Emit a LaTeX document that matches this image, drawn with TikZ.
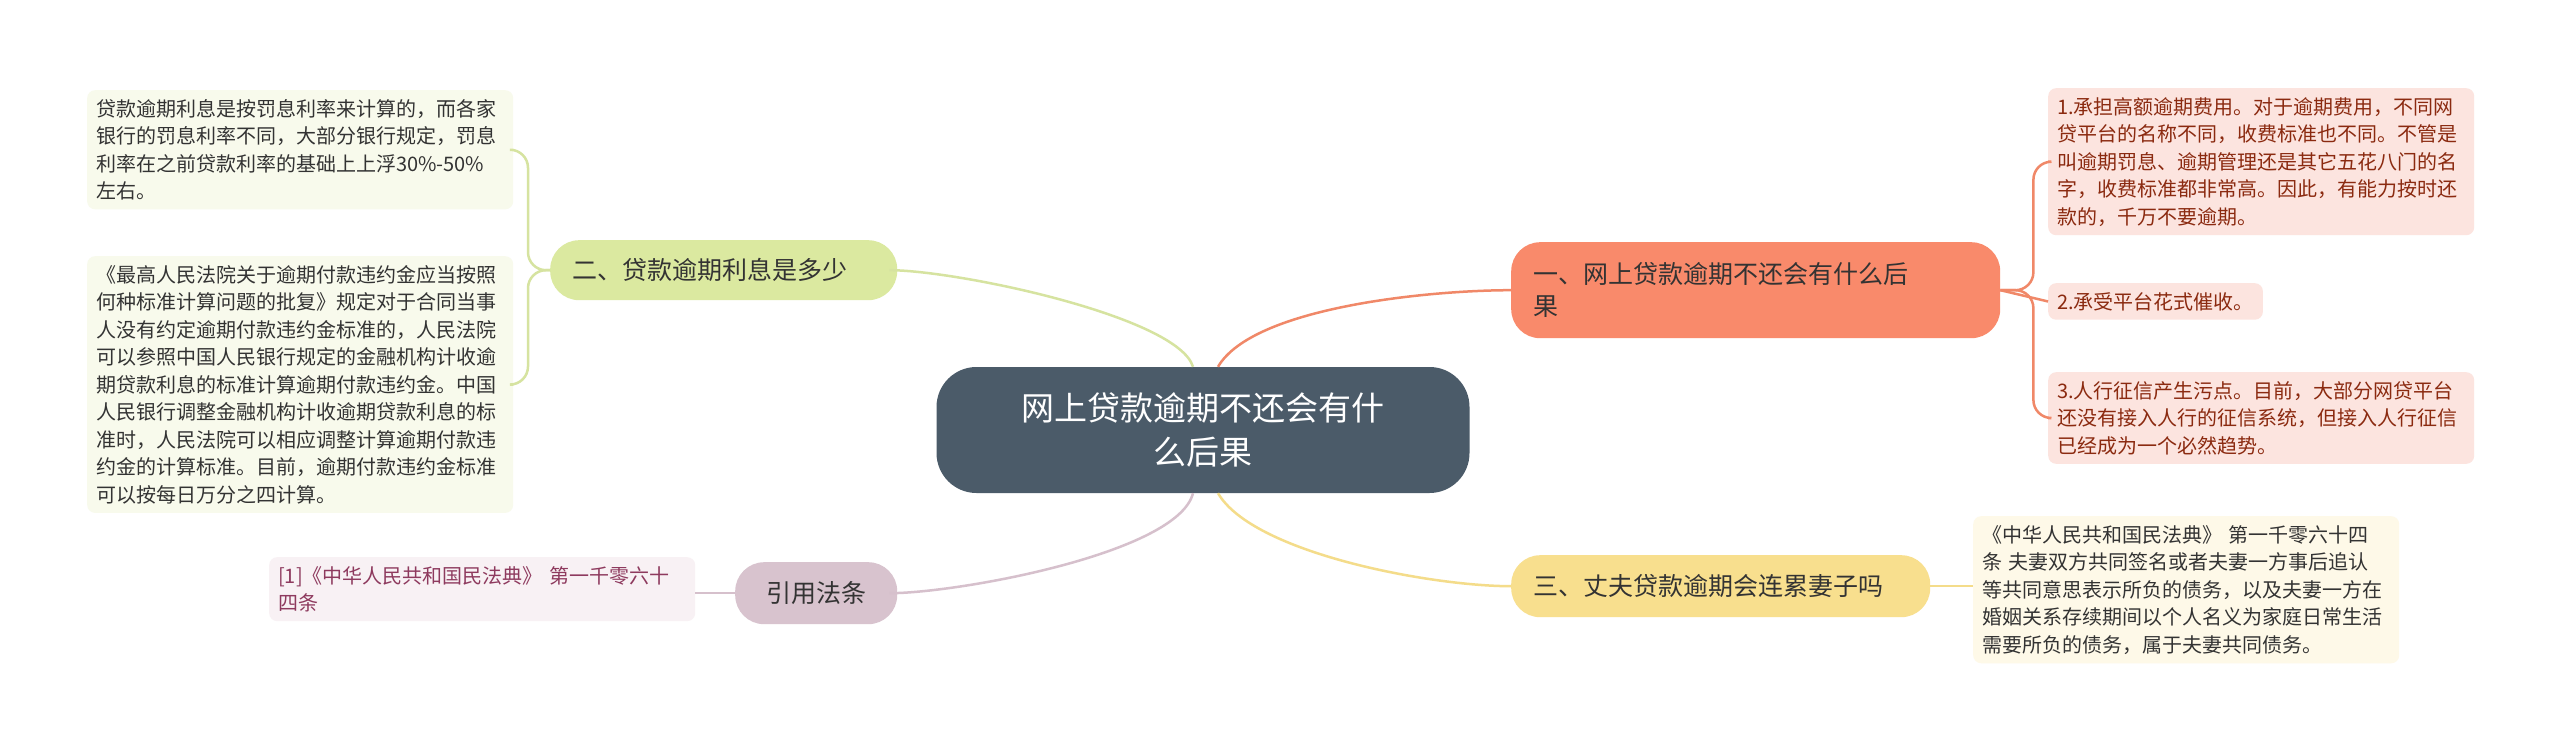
\documentclass[tikz,border=0pt]{standalone}
\usepackage{fontspec}
\setmainfont{Noto Sans CJK SC}
\usetikzlibrary{calc}
\definecolor{cctr}{HTML}{4B5B69}
\definecolor{cb1}{HTML}{F98A6B}
\definecolor{cl1}{HTML}{FCE4DF}
\definecolor{tl1}{HTML}{8B2A10}
\definecolor{cb2}{HTML}{DBE9A0}
\definecolor{cl2}{HTML}{F8FAEC}
\definecolor{cbc}{HTML}{D8C3CE}
\definecolor{clc}{HTML}{F8F1F4}
\definecolor{tlc}{HTML}{8E3A5E}
\definecolor{cb3}{HTML}{F8DF8E}
\definecolor{cl3}{HTML}{FEF9E8}
\definecolor{ln1}{HTML}{F08868}
\definecolor{ln2}{HTML}{D6E3A0}
\definecolor{lnc}{HTML}{D6C0CC}
\definecolor{ln3}{HTML}{F4DC8A}
\tikzset{
 leaf/.style={anchor=north west,rounded corners=8pt,inner xsep=9pt,inner ysep=9pt,align=left,font=\fontsize{20}{27.5}\selectfont,text=black!80},
 branch/.style={anchor=north west,rounded corners=29pt,inner xsep=22pt,align=left,font=\fontsize{25}{32}\selectfont,text=black!80},
 conn/.style={line width=2.5pt},
}
\begin{document}
\begin{tikzpicture}[x=1pt,y=-1pt]
\useasboundingbox (0,0) rectangle (2560,751);
\fill[white] (0,0) rectangle (2560,751);
% center
\node[fill=cctr,rounded corners=40pt,minimum width=533pt,minimum height=126pt,text=white,align=center,font=\fontsize{33}{44}\selectfont] (ctr) at (1203,430) {网上贷款逾期不还会有什\\么后果};
% branches
\node[branch,fill=cb1,minimum width=489pt,minimum height=96pt,text width=445pt] (b1) at (1511,242) {一、网上贷款逾期不还会有什么后\\果};
\node[branch,fill=cb3,minimum width=419pt,minimum height=62pt,text width=375pt] (b3) at (1511,555) {三、丈夫贷款逾期会连累妻子吗};
\node[branch,fill=cb2,minimum width=347pt,minimum height=60pt,text width=303pt] (b2) at (550,240) {二、贷款逾期利息是多少};
\node[branch,fill=cbc,minimum width=162pt,minimum height=62pt,text width=118pt,align=center] (bc) at (735,562) {引用法条};
% leaves right
\node[leaf,fill=cl1,text=tl1,text width=408pt] (l1a) at (2048,88) {1.承担高额逾期费用。对于逾期费用，不同网\\贷平台的名称不同，收费标准也不同。不管是\\叫逾期罚息、逾期管理还是其它五花八门的名\\字，收费标准都非常高。因此，有能力按时还\\款的，千万不要逾期。};
\node[leaf,fill=cl1,text=tl1] (l1b) at (2048,283) {2.承受平台花式催收。};
\node[leaf,fill=cl1,text=tl1,text width=408pt] (l1c) at (2048,372) {3.人行征信产生污点。目前，大部分网贷平台\\还没有接入人行的征信系统，但接入人行征信\\已经成为一个必然趋势。};
\node[leaf,fill=cl3,text width=408pt] (l3) at (1973,516) {《中华人民共和国民法典》\ 第一千零六十四\\条 夫妻双方共同签名或者夫妻一方事后追认\\等共同意思表示所负的债务，以及夫妻一方在\\婚姻关系存续期间以个人名义为家庭日常生活\\需要所负的债务，属于夫妻共同债务。};
% leaves left
\node[leaf,fill=cl2,text width=408pt] (l2a) at (87,90) {贷款逾期利息是按罚息利率来计算的，而各家\\银行的罚息利率不同，大部分银行规定，罚息\\利率在之前贷款利率的基础上上浮30\%\mbox{-}50\%\\左右。};
\node[leaf,fill=cl2,text width=408pt] (l2b) at (87,256) {《最高人民法院关于逾期付款违约金应当按照\\何种标准计算问题的批复》规定对于合同当事\\人没有约定逾期付款违约金标准的，人民法院\\可以参照中国人民银行规定的金融机构计收逾\\期贷款利息的标准计算逾期付款违约金。中国\\人民银行调整金融机构计收逾期贷款利息的标\\准时，人民法院可以相应调整计算逾期付款违\\约金的计算标准。目前，逾期付款违约金标准\\可以按每日万分之四计算。};
\node[leaf,fill=clc,text=tlc,text width=408pt] (lc) at (269,557) {[1]《中华人民共和国民法典》\ 第一千零六十\\四条};
% center connectors
\draw[conn,ln1] ($(ctr.north)+(15,0)$) .. controls ($(ctr.north)+(50,-60)$) and ($(b1.west)+(-80,0)$) .. (b1.west);
\draw[conn,ln3] ($(ctr.south)+(15,0)$) .. controls ($(ctr.south)+(50,60)$) and ($(b3.west)+(-80,0)$) .. (b3.west);
\draw[conn,ln2] ($(ctr.north)+(-10,0)$) .. controls ($(ctr.north)+(-25,-50)$) and ($(b2.east)+(60,0)$) .. ($(b2.east)+(-8,0)$);
\draw[conn,lnc] ($(ctr.south)+(-10,0)$) .. controls ($(ctr.south)+(-25,60)$) and ($(bc.east)+(60,0)$) .. ($(bc.east)+(-8,0)$);
% leaf connectors
\draw[conn,ln1,rounded corners=18pt] (b1.east) -- ($(b1.east)+(33,0)$) |- (l1a.west);
\draw[conn,ln1] (b1.east) -- (l1b.west);
\draw[conn,ln1,rounded corners=18pt] (b1.east) -- ($(b1.east)+(33,0)$) |- (l1c.west);
\draw[conn,ln3] (b3.east) -- (l3.west |- b3.east);
\draw[conn,ln2,rounded corners=18pt] (b2.west) -- ($(b2.west)+(-22,0)$) |- (l2a.east);
\draw[conn,ln2,rounded corners=18pt] (b2.west) -- ($(b2.west)+(-22,0)$) |- (l2b.east);
\draw[conn,lnc] (bc.west) -- (lc.east |- bc.west);
\end{tikzpicture}
\end{document}
